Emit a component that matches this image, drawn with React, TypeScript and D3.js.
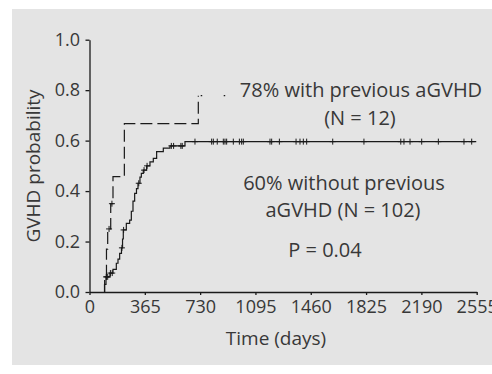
import React, {useRef, useEffect} from "react";
import * as d3 from "d3";

const xTicks = [0, 365, 730, 1095, 1460, 1825, 2190, 2555];
const yTicks = [0, 0.2, 0.4, 0.6, 0.8, 1.0];

// without previous aGVHD (N = 102): event day and probability after it
const noPrevDays = [99, 109, 135, 155, 177, 188, 199, 211, 218, 223, 243, 265, 276, 287, 298, 310, 320, 333, 342, 355, 377, 399, 421, 443, 487, 531, 630];
const noPrevProb = [0.03, 0.06, 0.075, 0.09, 0.114, 0.13, 0.153, 0.175, 0.21, 0.246, 0.272, 0.285, 0.32, 0.36, 0.391, 0.41, 0.431, 0.455, 0.47, 0.483, 0.5, 0.516, 0.53, 0.556, 0.57, 0.579, 0.596];
const noPrevEnd = 2552;
const noPrevCensored = [112, 120, 138, 150, 214, 225, 325, 360, 380, 540, 555, 603, 612,
    696, 806, 817, 843, 883, 894, 905, 949, 989, 1004, 1015, 1191, 1202, 1253, 1363, 1389,
    1411, 1433, 1605, 1811, 2054, 2075, 2115, 2192, 2302, 2471, 2522];

// with previous aGVHD (N = 12)
const prevDays = [100, 112, 120, 140, 155, 230, 718];
const prevProb = [0.06, 0.17, 0.25, 0.35, 0.457, 0.667, 0.778];
const prevEnd = 900;
const prevCensored = [111, 129, 148];

const width = 492;
const height = 374;
const margin = {top: 39.7, right: 15.3, bottom: 82, left: 89.5};

const probAt = (days: number[], probs: number[], t: number) => {
    let p = 0;
    days.forEach((d, i) => { if (d <= t) p = probs[i]; });
    return p;
};

const App: React.FC = () => {
    const ref = useRef<SVGSVGElement>(null);

    useEffect(() => {
        if (!ref.current) return;
        const svg = d3.select(ref.current);
        svg.selectAll("*").remove();

        const font = "'Open Sans', sans-serif";
        const ink = "#1a1a1a";
        const textColor = "#383838";

        svg.append("rect")
            .attr("x", 12).attr("y", 9)
            .attr("width", width - 12).attr("height", 356)
            .attr("fill", "#e4e4e4");

        const x = d3.scaleLinear().domain([0, 2555]).range([margin.left, width - margin.right]);
        const y = d3.scaleLinear().domain([0, 1]).range([height - margin.bottom, margin.top]);

        const gx = svg.append("g").attr("transform", `translate(0,${y(0)})`)
            .call(d3.axisBottom(x).tickValues(xTicks).tickSize(3).tickSizeOuter(0).tickPadding(5).tickFormat(d3.format("d")));
        const gy = svg.append("g").attr("transform", `translate(${x(0)},0)`)
            .call(d3.axisLeft(y).tickValues(yTicks).tickSize(4).tickSizeOuter(0).tickPadding(5.5).tickFormat(d3.format(".1f")));

        [gx, gy].forEach(g => {
            g.selectAll("path, line").attr("stroke", ink).attr("stroke-width", 1.3);
            g.selectAll("text").attr("fill", textColor).attr("font-size", 18).attr("font-family", font);
        });

        const line = d3.line<[number, number]>()
            .x(d => x(d[0]))
            .y(d => y(d[1]))
            .curve(d3.curveStepAfter);

        const pts = (days: number[], probs: number[]) => {
            const out: [number, number][] = [[days[0], 0]];
            days.forEach((d, i) => out.push([d, probs[i]]));
            return out;
        };

        // solid curve
        const solid = pts(noPrevDays, noPrevProb);
        solid.push([noPrevEnd, noPrevProb[noPrevProb.length - 1]]);
        svg.append("path")
            .datum(solid)
            .attr("fill", "none")
            .attr("stroke", ink)
            .attr("stroke-width", 1.2)
            .attr("d", line);

        // dashed curve
        const dashed = pts(prevDays, prevProb);
        svg.append("path")
            .datum(dashed)
            .attr("fill", "none")
            .attr("stroke", ink)
            .attr("stroke-width", 1.2)
            .attr("stroke-dasharray", "12,5")
            .attr("d", line);
        const last = prevProb[prevProb.length - 1];
        svg.append("path")
            .datum([[prevDays[prevDays.length - 1], last], [prevEnd, last]] as [number, number][])
            .attr("fill", "none")
            .attr("stroke", ink)
            .attr("stroke-width", 1.3)
            .attr("stroke-dasharray", "1.5,21.5")
            .attr("stroke-dashoffset", -2.4)
            .attr("d", line);

        const cross = (t: number, p: number) => {
            const cx = x(t), cy = y(p);
            return `M${cx - 3},${cy}H${cx + 3}M${cx},${cy - 3}V${cy + 3}`;
        };
        svg.append("path")
            .attr("fill", "none")
            .attr("stroke", ink)
            .attr("stroke-width", 1)
            .attr("d", noPrevCensored.map(t => cross(t, probAt(noPrevDays, noPrevProb, t))).join("")
                + prevCensored.map(t => cross(t, probAt(prevDays, prevProb, t))).join(""));

        const label = (tx: number, ty: number, s: string, size: number) =>
            svg.append("text")
                .attr("x", tx).attr("y", ty)
                .attr("text-anchor", "middle")
                .attr("font-family", font)
                .attr("font-size", size)
                .attr("fill", textColor)
                .text(s);

        label(276, 345, "Time (days)", 19);
        svg.append("text")
            .attr("transform", "translate(40,166) rotate(-90)")
            .attr("text-anchor", "middle")
            .attr("font-family", font)
            .attr("font-size", 19)
            .attr("fill", textColor)
            .text("GVHD probability");

        label(361, 97, "78% with previous aGVHD", 20);
        label(360, 125, "(N = 12)", 20);
        label(344, 189.5, "60% without previous", 20);
        label(343, 217, "aGVHD (N = 102)", 20);
        label(325, 257, "P = 0.04", 20);
    }, []);

    return <div style={{position: "absolute", left: 0, top: 0, width, height}}>
        <svg ref={ref} width={width} height={height} style={{display: "block"}}/>
    </div>
}

export default App;
